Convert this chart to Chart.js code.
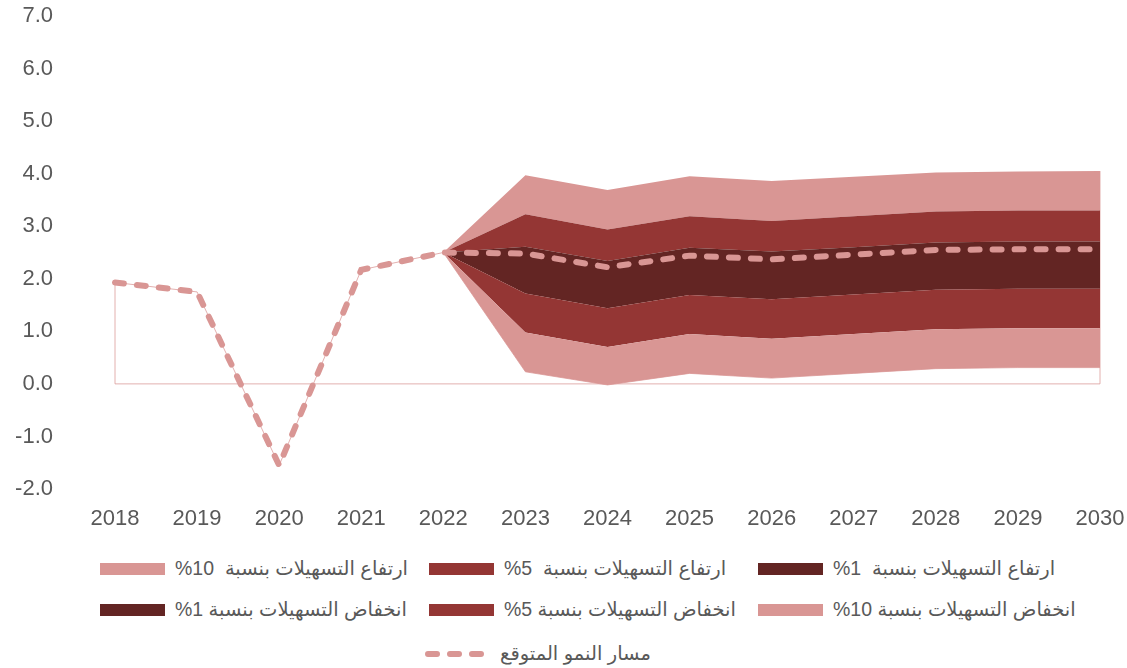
<!DOCTYPE html>
<html>
<head>
<meta charset="utf-8">
<script src="https://cdn.jsdelivr.net/npm/chart.js@4"></script>
<style>
  body { margin: 0; background: #fff; font-family: "Liberation Sans", Arial, "DejaVu Sans", sans-serif; }
  #wrap { position: relative; width: 1127px; height: 668px; }
  #chartBox { position: absolute; left: 0; top: 0; width: 1127px; height: 545px; }
  .legend-row { position: absolute; left: 100px; display: flex; }
  .item { width: 329px; display: flex; align-items: center; }
  .swatch { width: 65px; height: 12px; margin-right: 10px; flex: none; }
  .item span { font-size: 19.5px; color: #595959; white-space: nowrap; }
</style>
</head>
<body>
<div id="wrap">
  <div id="chartBox"><canvas id="fanChart"></canvas></div>
  <div id="legend"></div>
</div>
<script>
// Growth fan chart data
const years = ['2018', '2019', '2020', '2021', '2022', '2023', '2024', '2025', '2026', '2027', '2028', '2029', '2030'];
const growthPath = [1.93, 1.75, -1.55, 2.17, 2.5, 2.48, 2.22, 2.44, 2.37, 2.46, 2.55, 2.56, 2.56];
const low10 = [null, null, null, null, 2.5, 0.23, -0.02, 0.20, 0.11, 0.20, 0.29, 0.31, 0.31];
const low5  = [null, null, null, null, 2.5, 0.98, 0.70, 0.95, 0.86, 0.95, 1.04, 1.06, 1.06];
const low1  = [null, null, null, null, 2.5, 1.72, 1.44, 1.69, 1.61, 1.70, 1.79, 1.81, 1.81];
const up1   = [null, null, null, null, 2.5, 2.61, 2.34, 2.59, 2.52, 2.60, 2.69, 2.71, 2.71];
const up5   = [null, null, null, null, 2.5, 3.23, 2.94, 3.19, 3.10, 3.19, 3.28, 3.30, 3.30];
const up10  = [null, null, null, null, 2.5, 3.97, 3.69, 3.95, 3.86, 3.94, 4.02, 4.04, 4.05];

const pink = '#d99694';
const red = '#943634';
const dark = '#632523';
const outline = 'rgba(217,150,148,0.75)';

// base of the fan: history up to 2022, then the lowest band edge
const baseLine = years.map((y, i) => low10[i] !== null ? low10[i] : growthPath[i]);

// thin outline of the base area (down to zero and along the zero line)
const baseOutline = {
    id: 'baseOutline',
    beforeDatasetsDraw(chart) {
        const x = chart.scales.x, y = chart.scales.y;
        const last = years.length - 1;
        const ctx = chart.ctx;
        ctx.save();
        ctx.strokeStyle = outline;
        ctx.lineWidth = 1;
        ctx.beginPath();
        ctx.moveTo(x.getPixelForValue(0), y.getPixelForValue(baseLine[0]));
        ctx.lineTo(x.getPixelForValue(0), y.getPixelForValue(0));
        ctx.lineTo(x.getPixelForValue(last), y.getPixelForValue(0));
        ctx.lineTo(x.getPixelForValue(last), y.getPixelForValue(up10[last]));
        ctx.stroke();
        ctx.restore();
    }
};

function band(data, color) {
    return {
        data: data,
        fill: '-1',
        backgroundColor: color,
        borderWidth: 0,
        borderColor: color,
        pointRadius: 0,
        tension: 0
    };
}

new Chart(document.getElementById('fanChart'), {
    type: 'line',
    data: {
        labels: years,
        datasets: [
            { data: baseLine, fill: false, borderColor: outline, borderWidth: 1, pointRadius: 0 },
            band(low5, pink),
            band(low1, red),
            band(up1, dark),
            band(up5, red),
            band(up10, pink),
            {
                data: growthPath,
                fill: false,
                order: -1,
                borderColor: pink,
                borderWidth: 6,
                borderDash: [9, 13],
                borderCapStyle: 'round',
                pointRadius: 0,
                tension: 0
            }
        ]
    },
    options: {
        responsive: true,
        maintainAspectRatio: false,
        animation: false,
        layout: { padding: { top: 16, right: 27, bottom: 0, left: 0 } },
        plugins: { legend: { display: false }, tooltip: { enabled: false } },
        scales: {
            x: {
                offset: false,
                grid: { display: false, drawTicks: false },
                border: { display: false },
                ticks: { color: '#595959', font: { family: 'Liberation Sans', size: 22 }, padding: 17, maxRotation: 0 },
                afterFit: function(scale) {
                    scale.height = 56;
                    scale.paddingLeft = 0;
                    scale.paddingRight = 0;
                }
            },
            y: {
                min: -2,
                max: 7,
                grid: { display: false, drawTicks: false },
                border: { display: false },
                ticks: {
                    stepSize: 1,
                    color: '#595959',
                    padding: 62,
                    font: { family: 'Liberation Sans', size: 22 },
                    callback: function(v) { return v.toFixed(1); }
                },
                afterFit: function(scale) {
                    scale.width = 115;
                    scale.paddingTop = 0;
                    scale.paddingBottom = 0;
                }
            }
        }
    },
    plugins: [baseOutline]
});

// HTML legend (right-to-left labels)
const legendRows = [
    { top: 557, items: [['ارتفاع التسهيلات بنسبة&nbsp; 10%', pink], ['ارتفاع التسهيلات بنسبة&nbsp; 5%', red], ['ارتفاع التسهيلات بنسبة&nbsp; 1%', dark]] },
    { top: 598, items: [['انخفاض التسهيلات بنسبة 1%', dark], ['انخفاض التسهيلات بنسبة 5%', red], ['انخفاض التسهيلات بنسبة 10%', pink]] }
];
const legend = document.getElementById('legend');
legendRows.forEach(row => {
    const div = document.createElement('div');
    div.className = 'legend-row';
    div.style.top = row.top + 'px';
    row.items.forEach(item => {
        const el = document.createElement('div');
        el.className = 'item';
        el.innerHTML = '<div class="swatch" style="background:' + item[1] + '"></div><span dir="rtl">' + item[0] + '</span>';
        div.appendChild(el);
    });
    legend.appendChild(div);
});
const pathRow = document.createElement('div');
pathRow.className = 'legend-row';
pathRow.style.top = '642px';
pathRow.style.left = '425px';
pathRow.innerHTML = '<div class="item" style="width:auto"><svg width="65" height="12" style="margin-right:10px">' +
    '<line x1="3" y1="6" x2="62" y2="6" stroke="' + pink + '" stroke-width="6" stroke-linecap="round" stroke-dasharray="9 13"/></svg>' +
    '<span dir="rtl">مسار النمو المتوقع</span></div>';
legend.appendChild(pathRow);
</script>
</body>
</html>
